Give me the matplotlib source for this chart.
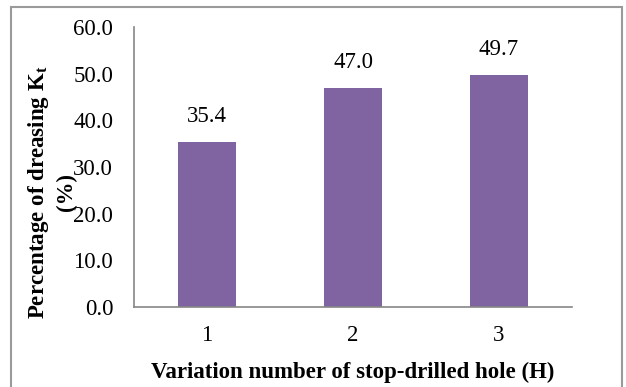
import matplotlib.pyplot as plt
from matplotlib.patches import Rectangle

plt.rcParams['font.family'] = ['Liberation Serif', 'DejaVu Serif']
plt.rcParams['mathtext.fontset'] = 'custom'
plt.rcParams['mathtext.rm'] = 'Liberation Serif'
plt.rcParams['mathtext.bf'] = 'Liberation Serif:bold'

categories = ['1', '2', '3']
values = [35.4, 47.0, 49.7]
yticks = [0, 10, 20, 30, 40, 50, 60]

FS = 16.5

fig = plt.figure(figsize=(6.26, 3.87), dpi=100)
ax = fig.add_axes([134 / 626, 1 - 307 / 387, 438 / 626, 280 / 387])

x = list(range(len(categories)))
bars = ax.bar(x, values, width=0.4, color='#8064A2', zorder=2)
for b, v in zip(bars, values):
    ax.text(b.get_x() + b.get_width() / 2, v + 5.4, '%.1f' % v,
            ha='center', va='center', fontsize=FS)

ax.set_xlim(-0.5, 2.5)
ax.set_ylim(0, 60)
ax.set_yticks(yticks)
ax.set_yticklabels(['%.1f' % t for t in yticks], fontsize=FS)
ax.set_xticks(x)
ax.set_xticklabels(categories, fontsize=FS)
ax.tick_params(axis='both', length=0)
ax.tick_params(axis='x', pad=13)
ax.tick_params(axis='y', pad=15)

for s in ['top', 'right']:
    ax.spines[s].set_visible(False)
for s in ['left', 'bottom']:
    ax.spines[s].set_color('#868686')
    ax.spines[s].set_linewidth(1.2)

ax.set_xlabel('Variation number of stop-drilled hole (H)', fontsize=FS,
              fontweight='bold', labelpad=11)
fig.text(52 / 626, 1 - 192 / 387, 'Percentage of dreasing K$_\\mathbf{t}$\n(%)',
         rotation=90, ha='center', va='center', fontsize=FS,
         fontweight='bold', linespacing=1.3)

fig.patches.append(Rectangle((10.5 / 626, -0.05), 611.5 / 626, 1.05 - 7 / 387,
                             transform=fig.transFigure, fill=False,
                             edgecolor='#9a9a9a', linewidth=1.5))

fig.savefig('out.png', dpi=100)
